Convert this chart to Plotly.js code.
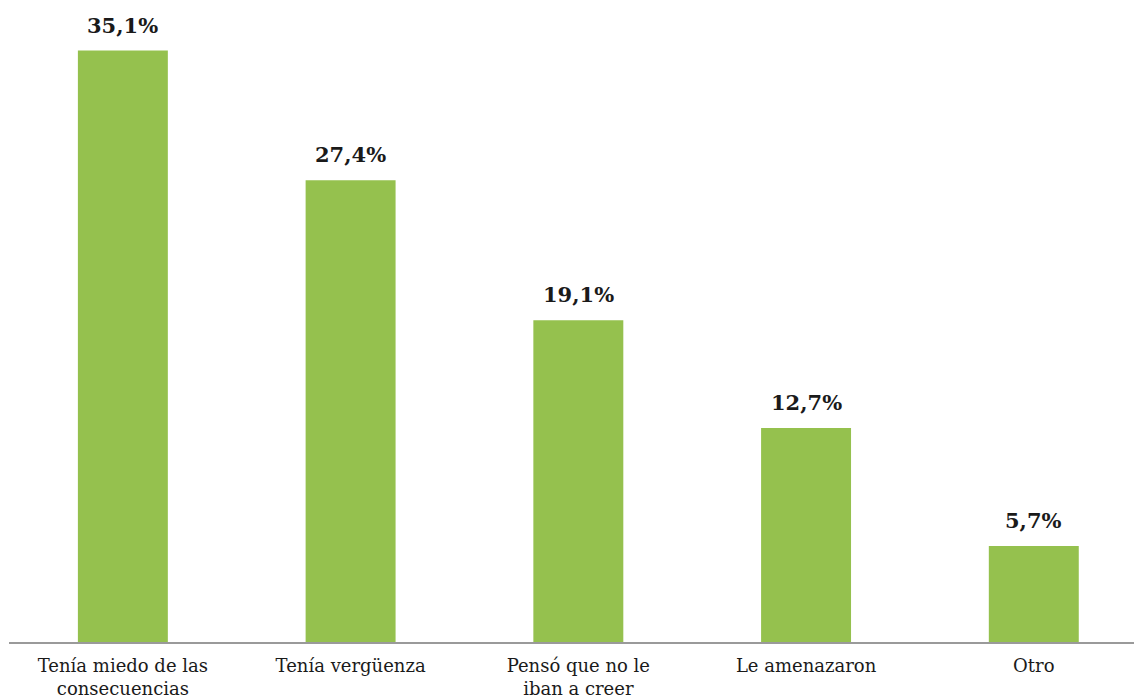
<!DOCTYPE html>
<html>
<head>
<meta charset="utf-8">
<script src="https://cdn.plot.ly/plotly-3.0.1.min.js"></script>
<style>html,body{margin:0;padding:0;background:#fff;}#chart{width:1134px;height:700px;}</style>
</head>
<body>
<div id="chart"></div>
<script>
const categories = ["Tenía miedo de las<br>consecuencias", "Tenía vergüenza", "Pensó que no le<br>iban a creer", "Le amenazaron", "Otro"];
const values = [35.1, 27.4, 19.1, 12.7, 5.7];
const labels = ["35,1%", "27,4%", "19,1%", "12,7%", "5,7%"];

const trace = {
  type: 'bar',
  x: [0, 1, 2, 3, 4],
  y: values,
  marker: {color: '#95C14E'},
  hoverinfo: 'none'
};

const annotations = values.map((v, i) => ({
  x: i, y: v, xref: 'x', yref: 'y',
  text: '<b>' + labels[i] + '</b>',
  showarrow: false, yanchor: 'bottom', yshift: 11,
  font: {family: 'DejaVu Serif', size: 21, color: '#1a1a1a'}
}));

const layout = {
  width: 1134, height: 700,
  margin: {l: 9, r: 0, t: 0, b: 58},
  paper_bgcolor: '#fff', plot_bgcolor: '#fff',
  bargap: 0.605,
  showlegend: false,
  annotations: annotations,
  font: {family: 'DejaVu Serif', color: '#1a1a1a'},
  xaxis: {
    range: [-0.5, 4.44],
    tickvals: [0, 1, 2, 3, 4],
    ticktext: categories,
    tickfont: {family: 'DejaVu Serif', size: 18, color: '#1a1a1a'},
    ticklabelstandoff: 6,
    showline: true, linecolor: '#9a9a9a', linewidth: 2,
    ticks: '', showgrid: false, zeroline: false, fixedrange: true
  },
  yaxis: {
    range: [0, 38.1],
    visible: false, showgrid: false, zeroline: false, fixedrange: true
  }
};

Plotly.newPlot('chart', [trace], layout, {displayModeBar: false, staticPlot: true});
</script>
</body>
</html>
